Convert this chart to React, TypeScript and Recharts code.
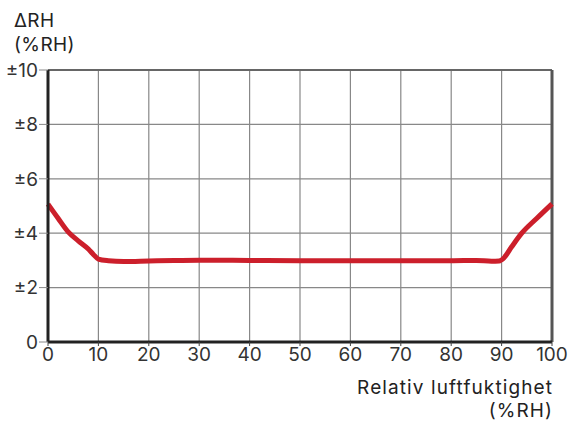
import { CartesianGrid, Label, Line, LineChart, ReferenceLine, XAxis, YAxis } from 'recharts';

const rhValues = [0, 2, 4, 6, 8, 9, 10, 12, 15, 20, 25, 30, 40, 50, 60, 70, 80, 85, 88, 89.5, 90.5, 92, 94, 97, 100];
const deltaRh = [5.07, 4.55, 4.05, 3.72, 3.42, 3.22, 3.05, 2.99, 2.96, 2.98, 3.0, 3.01, 3.0, 2.99, 2.99, 2.99, 2.99, 3.0, 2.97, 2.98, 3.1, 3.5, 4.0, 4.55, 5.08];
const xTicks = [0, 10, 20, 30, 40, 50, 60, 70, 80, 90, 100];
const yTicks = [0, 2, 4, 6, 8, 10];

const series = rhValues.map((rh, i) => ({ rh, delta: deltaRh[i] }));

const font = 'Inter, "Noto Sans", sans-serif';

export default function App() {
  return (
    <div style={{ position: 'absolute', left: 0, top: 0, width: 575, height: 423, background: '#fff' }}>
      <svg width={120} height={60} style={{ position: 'absolute', left: 0, top: 0 }}>
        <text fontFamily={font} fontSize={19} fill="#222" letterSpacing={0.4}>
          <tspan x={14} y={27}>ΔRH</tspan>
          <tspan x={14} y={51}>(%RH)</tspan>
        </text>
      </svg>
      <LineChart
        width={575}
        height={423}
        data={series}
        margin={{ top: 70, right: 23, bottom: 51, left: 0 }}
        style={{ position: 'absolute', left: 0, top: 0 }}
      >
        <CartesianGrid stroke="#888" strokeWidth={1.2} />
        <XAxis
          dataKey="rh"
          type="number"
          domain={[0, 100]}
          ticks={xTicks}
          interval={0}
          height={30}
          axisLine={{ stroke: '#222', strokeWidth: 3 }}
          tickLine={{ stroke: '#444' }}
          tickSize={4}
          tickMargin={2}
          tick={{ fontSize: 19, fill: '#333', fontFamily: font }}
        >
          <Label
            content={({ viewBox }: any) => (
              <text fontFamily={font} fontSize={19} fill="#222" textAnchor="end" letterSpacing={1.1}>
                <tspan x={viewBox.x + viewBox.width + 1} y={394}>
                  Relativ luftfuktighet
                </tspan>
                <tspan x={viewBox.x + viewBox.width + 1} y={417}>
                  (%RH)
                </tspan>
              </text>
            )}
          />
        </XAxis>
        <YAxis
          type="number"
          domain={[0, 10]}
          ticks={yTicks}
          interval={0}
          width={48}
          axisLine={{ stroke: '#222', strokeWidth: 3 }}
          tickLine={{ stroke: '#888' }}
          tickSize={9}
          tickMargin={1}
          tickFormatter={(v: number) => (v === 0 ? '0' : `±${v}`)}
          tick={{ fontSize: 19, fill: '#333', fontFamily: font }}
        />
        <ReferenceLine y={10} stroke="#666" strokeWidth={2} />
        <ReferenceLine x={100} stroke="#555" strokeWidth={3} />
        <Line
          type="monotone"
          dataKey="delta"
          stroke="#cc1f2b"
          strokeWidth={5}
          dot={false}
          isAnimationActive={false}
        />
      </LineChart>
    </div>
  );
}
